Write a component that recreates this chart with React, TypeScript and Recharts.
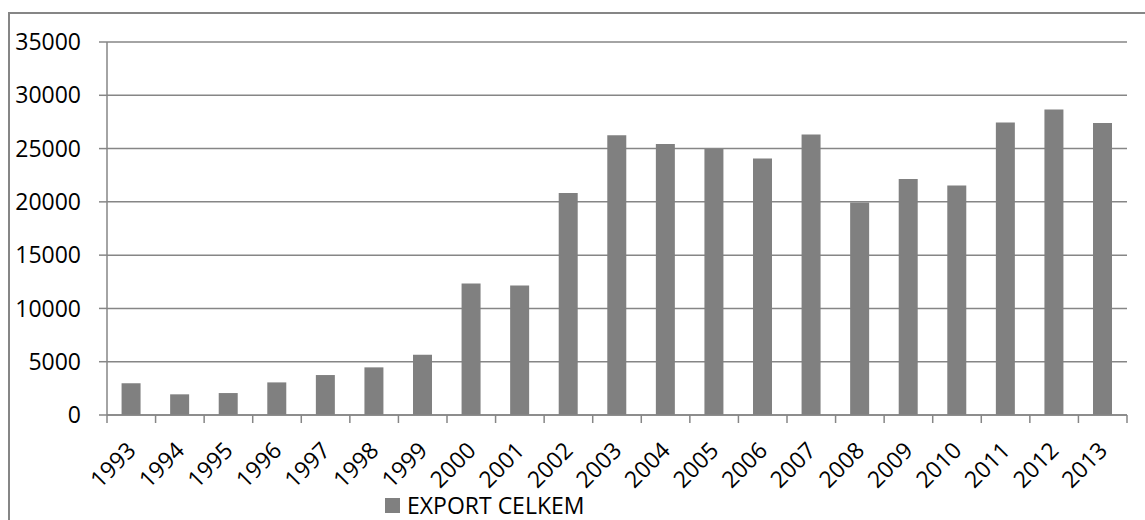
import React from 'react';
import { BarChart, Bar, XAxis, YAxis, CartesianGrid, Legend } from 'recharts';

const years = ['1993', '1994', '1995', '1996', '1997', '1998', '1999', '2000', '2001', '2002', '2003', '2004', '2005', '2006', '2007', '2008', '2009', '2010', '2011', '2012', '2013'];
const exportCelkem = [2970, 1940, 2060, 3060, 3750, 4470, 5660, 12350, 12150, 20840, 26250, 25440, 24950, 24060, 26310, 19950, 22150, 21530, 27440, 28660, 27400];
const yTicks = [0, 5000, 10000, 15000, 20000, 25000, 30000, 35000];
const seriesName = 'EXPORT CELKEM';

const data = years.map((y, i) => ({ year: y, value: exportCelkem[i] }));

const FONT = "'Open Sans', sans-serif";
const FS = 23;
const GRAY = '#868686';
const BAR = '#808080';

const XTick = (props: any) => {
  const { x, y, payload, index } = props;
  const half = payload && payload.offset ? payload.offset : 0;
  const last = index === years.length - 1;
  const lx = x + 6;
  const ly = y + 37;
  return (
    <g>
      <line x1={x - half} x2={x - half} y1={y} y2={y + 8} stroke={GRAY} strokeWidth={1.5} />
      {last ? <line x1={x + half} x2={x + half} y1={y} y2={y + 8} stroke={GRAY} strokeWidth={1.5} /> : null}
      <text x={lx} y={ly} textAnchor="end" transform={`rotate(-45, ${lx}, ${ly})`} fontFamily={FONT} fontSize={FS} fill="#000">
        {payload.value}
      </text>
    </g>
  );
};

const LegendContent = (props: any) => {
  const items = props.payload || [];
  return (
    <div style={{ display: 'flex', alignItems: 'center', fontFamily: FONT, fontSize: FS, color: '#000', lineHeight: '22px' }}>
      {items.map((it: any) => (
        <div key={it.value} style={{ display: 'flex', alignItems: 'center' }}>
          <span style={{ display: 'inline-block', width: 15, height: 15, background: BAR, marginRight: 7 }} />
          <span>{it.value}</span>
        </div>
      ))}
    </div>
  );
};

export default function App() {
  return (
    <div style={{ position: 'absolute', left: 0, top: 0, width: 1145, height: 520, overflow: 'hidden', background: '#fff' }}>
      <div style={{ position: 'absolute', left: 8, top: 12, width: 1160, height: 540, border: `2px solid ${GRAY}`, boxSizing: 'border-box' }} />
      <div style={{ position: 'absolute', left: 0, top: 0 }}>
        <BarChart
          width={1145}
          height={520}
          data={data}
          margin={{ top: 42, right: 18, bottom: 15, left: 7 }}
          barCategoryGap="30%"
        >
          <CartesianGrid vertical={false} stroke={GRAY} strokeWidth={1.5} />
          <XAxis
            dataKey="year"
            height={90}
            interval={0}
            tickLine={false}
            tickSize={0}
            tickMargin={0}
            axisLine={{ stroke: GRAY, strokeWidth: 1.5 }}
            tick={<XTick />}
          />
          <YAxis
            width={100}
            domain={[0, 35000]}
            ticks={yTicks}
            interval={0}
            tickSize={8}
            tickMargin={18}
            tickLine={{ stroke: GRAY, strokeWidth: 1.5 }}
            axisLine={{ stroke: GRAY, strokeWidth: 1.5 }}
            tick={{ fontFamily: FONT, fontSize: FS, fill: '#000' }}
          />
          <Legend
            layout="vertical"
            align="center"
            verticalAlign="middle"
            content={<LegendContent />}
            wrapperStyle={{ position: 'absolute', left: 385, top: 494, width: 'auto' }}
          />
          <Bar dataKey="value" name={seriesName} fill={BAR} isAnimationActive={false} />
        </BarChart>
      </div>
    </div>
  );
}
